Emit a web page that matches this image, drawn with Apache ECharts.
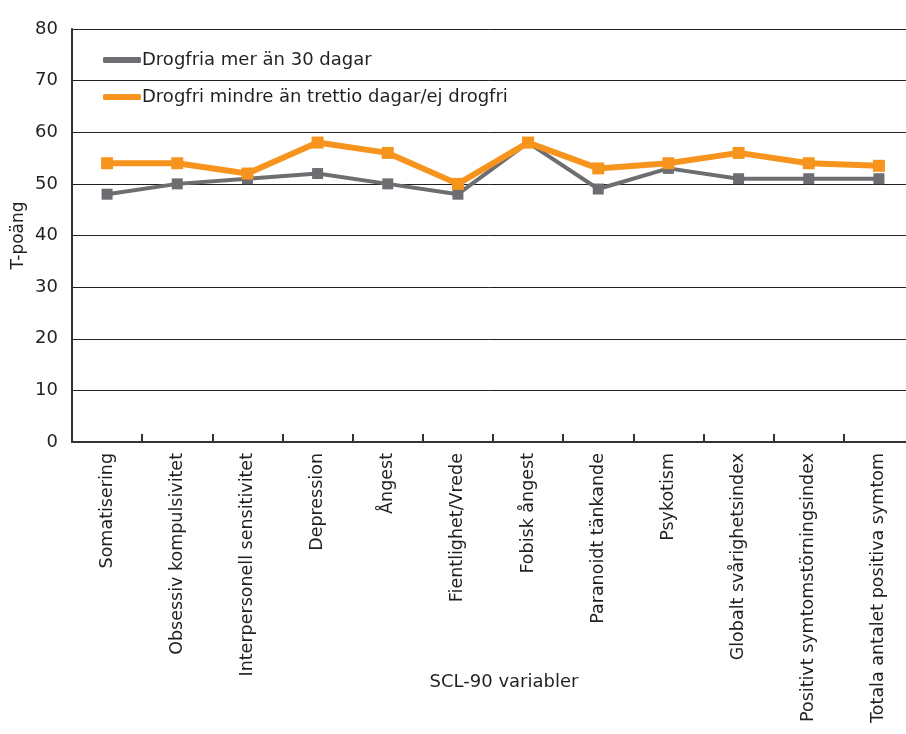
<!DOCTYPE html>
<html>
<head>
<meta charset="utf-8">
<script src="https://cdn.jsdelivr.net/npm/echarts@6/dist/echarts.min.js"></script>
<style>
html, body { margin: 0; padding: 0; background: #fff; }
#chart { width: 906px; height: 734px; }
</style>
</head>
<body>
<div id="chart"></div>
<script>
// kategorier (SCL-90)
var categories = [
	'Somatisering', 'Obsessiv kompulsivitet', 'Interpersonell sensitivitet',
	'Depression', 'Ångest', 'Fientlighet/Vrede', 'Fobisk ångest',
	'Paranoidt tänkande', 'Psykotism', 'Globalt svårighetsindex',
	'Positivt symtomstörningsindex', 'Totala antalet positiva symtom'
]

// T-poäng per grupp
var drogfriaMer30 = [48, 50, 51, 52, 50, 48, 58, 49, 53, 51, 51, 51]
var drogfriMindre = [54, 54, 52, 58, 56, 50, 58, 53, 54, 56, 54, 53.5]

var seriesNames = ['Drogfria mer än 30 dagar', 'Drogfri mindre än trettio dagar/ej drogfri']

var font = 'DejaVu Sans'
var textColor = '#231f20'

var chart = echarts.init(document.getElementById('chart'))
var option = {
	animation: false,
	textStyle: { fontFamily: font },
	grid: { left: 72, top: 29, bottom: 292, right: -8, outerBoundsMode: 'none', containLabel: false },
	legend: {
		orient: 'vertical',
		left: 98,
		top: 46,
		itemGap: 19,
		itemWidth: 38,
		itemHeight: 6,
		icon: 'roundRect',
		textStyle: { fontFamily: font, fontSize: 18, color: textColor, padding: [0, 0, 0, -4] },
		data: seriesNames
	},
	xAxis: {
		type: 'category',
		data: categories,
		boundaryGap: true,
		name: 'SCL-90 variabler',
		nameLocation: 'middle',
		nameGap: 231,
		nameMoveOverlap: false,
		nameTextStyle: { fontSize: 18, color: textColor, padding: [0, 0, 0, 22] },
		axisLine: { lineStyle: { color: '#333', width: 2 } },
		axisTick: { show: true, length: 8, inside: true, lineStyle: { color: '#333', width: 2 } },
		axisLabel: { rotate: 90, fontSize: 17.5, color: textColor, margin: 11, interval: 0 }
	},
	yAxis: {
		type: 'value',
		min: 0,
		max: 80,
		interval: 10,
		name: 'T-poäng',
		nameLocation: 'middle',
		nameGap: 45,
		nameMoveOverlap: false,
		nameTextStyle: { fontSize: 17, color: textColor },
		axisLine: { show: true, lineStyle: { color: '#333', width: 2 } },
		axisTick: { show: false },
		axisLabel: { fontSize: 18, color: textColor, margin: 14, padding: [0, 0, 10, 0] },
		splitLine: { lineStyle: { color: '#231f20', width: 1 } }
	},
	series: [
		{
			name: seriesNames[0],
			type: 'line',
			data: drogfriaMer30,
			symbol: 'rect',
			symbolSize: 11,
			itemStyle: { color: '#6d6e71' },
			lineStyle: { color: '#6d6e71', width: 4 },
			z: 2
		},
		{
			name: seriesNames[1],
			type: 'line',
			data: drogfriMindre,
			symbol: 'rect',
			symbolSize: 12,
			itemStyle: { color: '#f7941d' },
			lineStyle: { color: '#f7941d', width: 6 },
			z: 3
		}
	]
}
chart.setOption(option)
</script>
</body>
</html>
